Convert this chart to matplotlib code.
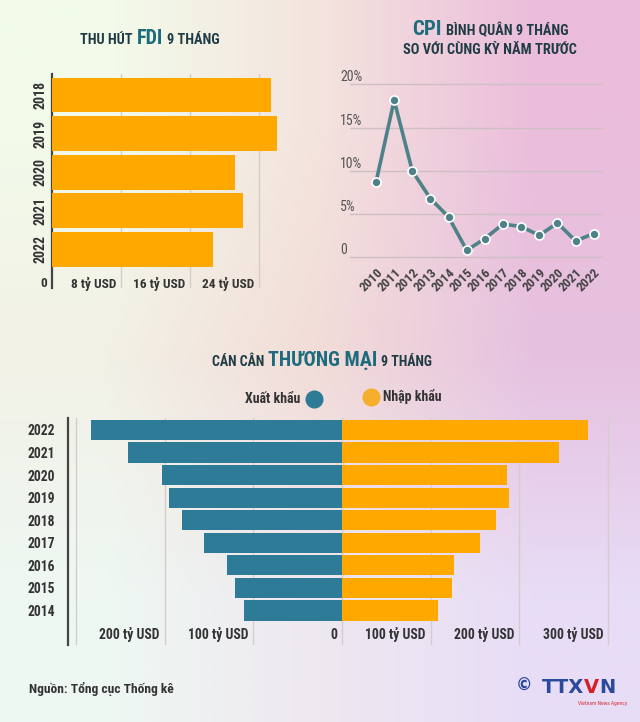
import numpy as np
import matplotlib
matplotlib.use("Agg")
import matplotlib.pyplot as plt
from matplotlib import font_manager as fm
from matplotlib.colors import to_rgb
from matplotlib.lines import Line2D
import matplotlib.transforms as mtransforms

# ---------------- data ----------------
fdi_years = ['2018', '2019', '2020', '2021', '2022']
fdi_values = [25.4, 26.1, 21.2, 22.1, 18.7]
fdi_ticks = [0, 8, 16, 24]
fdi_tick_labels = ['0', '8 tỷ USD', '16 tỷ USD', '24 tỷ USD']

cpi_years = ['2010', '2011', '2012', '2013', '2014', '2015', '2016',
             '2017', '2018', '2019', '2020', '2021', '2022']
cpi_values = [8.67, 18.15, 9.98, 6.78, 4.66, 0.81, 2.16, 3.85, 3.55, 2.54, 3.97, 1.89, 2.74]
cpi_ticks = [0, 5, 10, 15, 20]
cpi_tick_labels = ['0', '5%', '10%', '15%', '20%']

trade_years = ['2014', '2015', '2016', '2017', '2018', '2019', '2020', '2021', '2022']
exports = [110.8, 121.0, 129.3, 155.6, 180.4, 195.5, 203.4, 241.5, 283.4]
imports = [108.2, 124.2, 126.2, 155.6, 173.5, 188.3, 186.4, 244.9, 277.0]
trade_ticks = [-200, -100, 0, 100, 200, 300]
trade_tick_labels = ['200 tỷ USD', '100 tỷ USD', '0', '100 tỷ USD', '200 tỷ USD', '300 tỷ USD']

# ---------------- font choice (condensed if available) ----------------
entries = fm.fontManager.ttflist
cond = {}
for f in entries:
    if f.stretch in ('condensed', 'semi-condensed', 'extra-condensed'):
        cond.setdefault(f.name, f.stretch)
pref = ['Liberation Sans Narrow', 'Roboto Condensed', 'Open Sans Condensed',
        'DejaVu Sans', 'Noto Sans', 'Open Sans', 'Lato', 'Inter']
FAM, STRETCH, FS = 'Roboto', 'normal', 0.86
for p in pref:
    if p in cond:
        FAM, STRETCH = p, cond[p]
        FS = 1.0 if p in ('Liberation Sans Narrow', 'Roboto Condensed', 'Open Sans Condensed') else 0.95
        break
names = {f.name for f in entries}
if FAM == 'Roboto' and 'Roboto' not in names:
    FAM = 'DejaVu Sans'
    FS = 0.8
FONT = [FAM, 'DejaVu Sans']
plt.rcParams['font.family'] = FONT
plt.rcParams['font.weight'] = 'bold'
plt.rcParams['font.stretch'] = STRETCH

ORANGE = '#ffa800'
TEAL = '#2d7b97'
LINE = '#4f8189'
DARK = '#1f3b45'
HILITE = '#1d6c7e'
GRID = '#d6cccc'

W, H = 640, 722
fig = plt.figure(figsize=(W / 100, H / 100), dpi=100)


def fs(v):
    return v * FS


def px_axes(left, top, right, bottom):
    return fig.add_axes([left / W, 1 - bottom / H, (right - left) / W, (bottom - top) / H])


# background gradient
bg = fig.add_axes([0, 0, 1, 1], zorder=-10)
grid_cols = [['#f2fbea', '#f4e4de', '#ebbddb'],
             ['#f2f1e6', '#f2dcd8', '#e6c2e0'],
             ['#eef8f3', '#eee8f0', '#e8ddf7']]
img = np.array([[to_rgb(c) for c in row] for row in grid_cols])
bg.imshow(img, extent=[0, 1, 0, 1], aspect='auto', interpolation='bilinear')
bg.axis('off')

renderer = fig.canvas.get_renderer()


def seg_text(segs, cx, y, gap=4):
    texts = []
    for s, size, color in segs:
        t = fig.text(0, 0, s, fontsize=fs(size), color=color, fontweight='bold',
                     va='baseline', ha='left')
        texts.append(t)
    widths = [t.get_window_extent(renderer).width for t in texts]
    total = sum(widths) + gap * (len(texts) - 1)
    x = cx - total / 2
    for t, w in zip(texts, widths):
        t.set_position((x / W, 1 - y / H))
        x += w + gap


# ---------------- FDI ----------------
seg_text([('THU HÚT', 10.3, DARK), ('FDI', 14.5, HILITE), ('9 THÁNG', 10.3, DARK)], 150, 44)
ax1 = px_axes(52, 74, 52 + 26.5 * 8.625, 288)
ax1.set_facecolor('none')
ypos = np.arange(len(fdi_years))
ax1.barh(ypos, fdi_values, height=0.9, color=ORANGE, zorder=3)
ax1.set_xlim(0, 26.5)
ax1.set_ylim(5.0, -0.544)
for v in fdi_ticks[1:]:
    ax1.axvline(v, color=GRID, lw=1, zorder=1)
for s in ['top', 'right', 'bottom']:
    ax1.spines[s].set_visible(False)
ax1.spines['left'].set_color('#444444')
ax1.spines['left'].set_linewidth(1.6)
ax1.set_yticks(ypos)
ax1.set_yticklabels(fdi_years, rotation=90, va='center', fontsize=fs(10), color='#333333')
ax1.tick_params(axis='y', length=0, pad=3)
ax1.set_xticks([])
off = mtransforms.offset_copy(ax1.transData, fig=fig, x=-5, y=0, units='dots')
for v, lab in zip(fdi_ticks, fdi_tick_labels):
    ax1.text(v, 4.89, lab, transform=off, ha='right', va='center', fontsize=fs(9.6),
             color='#333333', fontweight='bold')

# ---------------- CPI ----------------
seg_text([('CPI', 15, HILITE), ('BÌNH QUÂN 9 THÁNG', 10.3, DARK)], 490, 35)
seg_text([('SO VỚI CÙNG KỲ NĂM TRƯỚC', 10.4, DARK)], 490, 54)
ax2 = px_axes(350, 84.3 - 0.5 * 8.65, 603, 257.3 + 0.5 * 8.65)
ax2.set_facecolor('none')
xi = np.arange(len(cpi_years))
ax2.set_xlim(-1.433, 12.51)
ax2.set_ylim(-0.5, 20.5)
for v in cpi_ticks:
    ax2.axhline(v, color='#cdbfc4', lw=1, zorder=1)
ax2.plot(xi, cpi_values, color=LINE, lw=2.6, marker='o', markersize=6.5,
         markerfacecolor=LINE, markeredgecolor='white', markeredgewidth=1.2,
         zorder=3, clip_on=False)
for s in ax2.spines.values():
    s.set_visible(False)
ax2.set_yticks([])
ax2.set_xticks(xi)
ax2.set_xticklabels(cpi_years, rotation=45, ha='right', rotation_mode='anchor',
                    fontsize=fs(9.5), color='#444444')
ax2.tick_params(axis='x', length=0, pad=3)
tr = mtransforms.blended_transform_factory(ax2.transAxes, ax2.transData)
tr = mtransforms.offset_copy(tr, fig=fig, x=0, y=7, units='dots')
for v, lab in zip(cpi_ticks, cpi_tick_labels):
    ax2.text(-10 / 253, v, lab, transform=tr, ha='left', va='center', fontsize=fs(10),
             color='#555555', fontweight='normal')

# ---------------- Trade ----------------
seg_text([('CÁN CÂN', 10, DARK), ('THƯƠNG MẠI', 14.5, HILITE), ('9 THÁNG', 10, DARK)], 322, 366)

fig.text(300 / W, 1 - 399 / H, 'Xuất khẩu', ha='right', va='center', fontsize=fs(10),
         color='#333333', fontweight='bold')
fig.add_artist(Line2D([313.5 / W], [1 - 399 / H], marker='o', markersize=12,
                      color=TEAL, linestyle='none', transform=fig.transFigure))
fig.add_artist(Line2D([371 / W], [1 - 397 / H], marker='o', markersize=12,
                      color='#f6ae2d', linestyle='none', transform=fig.transFigure))
fig.text(383 / W, 1 - 396 / H, 'Nhập khẩu', ha='left', va='center', fontsize=fs(10),
         color='#333333', fontweight='bold')

ax3 = px_axes(68, 418, 612, 645)
ax3.set_facecolor('none')
ty = np.arange(len(trade_years))
ax3.barh(ty, [-v for v in exports], height=0.89, color=TEAL, zorder=3)
ax3.barh(ty, imports, height=0.89, color=ORANGE, zorder=3)
ax3.set_xlim(-309.2, 304.5)
ax3.set_ylim(-1.53, 8.53)
for v in [-300, -200, -100, 0, 100, 200, 300]:
    ax3.axvline(v, color=GRID, lw=1, zorder=1)
for s in ['top', 'right', 'bottom']:
    ax3.spines[s].set_visible(False)
ax3.spines['left'].set_color('#444444')
ax3.spines['left'].set_linewidth(1.6)
ax3.set_yticks(ty)
ax3.set_yticklabels(trade_years, fontsize=fs(9.8), color='#333333')
ax3.tick_params(axis='y', length=0, pad=9)
ax3.set_xticks([])
off3 = mtransforms.offset_copy(ax3.transData, fig=fig, x=-5, y=0, units='dots')
for v, lab in zip(trade_ticks, trade_tick_labels):
    ax3.text(v, -1.07, lab, transform=off3, ha='right', va='center', fontsize=fs(9.9),
             color='#333333', fontweight='bold')

# ---------------- footer ----------------
fig.text(28.6 / W, 1 - 689 / H, 'Nguồn: Tổng cục Thống kê', ha='left', va='center',
         fontsize=fs(9.7), color='#333333', fontweight='bold')
fig.text(524 / W, 1 - 686 / H, '©', ha='center', va='center', fontsize=12,
         color='#2b4a9b', family=['DejaVu Sans'], fontweight='bold', stretch='normal')
logo = [('TTX', '#2b4a9b'), ('V', '#d42027'), ('N', '#2b4a9b')]
x = 542
for s, c in logo:
    t = fig.text(x / W, 1 - 693 / H, s, ha='left', va='baseline', fontsize=14,
                 color=c, family=['DejaVu Sans'], fontweight='heavy', stretch='normal')
    x += t.get_window_extent(renderer).width
fig.text(603 / W, 1 - 703 / H, 'Vietnam News Agency', ha='center', va='center',
         fontsize=3.5, color='#d42027', family=['DejaVu Sans'], fontweight='normal')

fig.savefig('out.png', dpi=100)
